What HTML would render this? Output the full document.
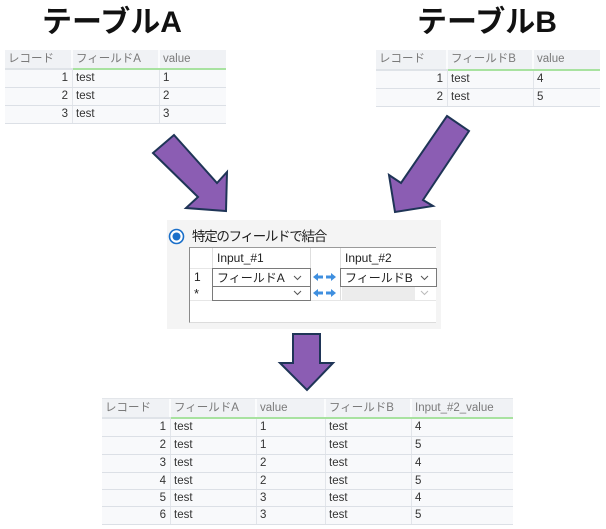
<!DOCTYPE html>
<html><head><meta charset="utf-8">
<style>
html,body{margin:0;padding:0;background:#fff;}
body{width:606px;height:529px;position:relative;overflow:hidden;font-family:"Liberation Sans","Noto Sans CJK JP",sans-serif;}
.t{position:absolute;font-weight:bold;font-size:30px;line-height:30px;color:#111;white-space:nowrap;font-family:"Liberation Sans","Noto Sans CJK JP",sans-serif;}
.row{position:absolute;display:flex;box-sizing:border-box;}
.row span{box-sizing:border-box;display:block;white-space:nowrap;overflow:hidden;padding-left:3px;font-size:11.5px;font-family:"Liberation Sans","Noto Sans CJK JP",sans-serif;border-right:1px solid #e2e5ea;}
.hd{background:#f0f2f5;color:#7a7a7a;}
.hd span{border-right:2px solid #fbfcfd;}
.bd{background:#f8f9fb;color:#333;border-bottom:1px solid #dce0e6;}
.bd span.n{text-align:right;padding-right:4px;padding-left:0;}
.ln{position:absolute;}
.g{position:absolute;font-size:12px;color:#222;white-space:nowrap;font-family:"Liberation Sans","Noto Sans CJK JP",sans-serif;}
</style></head><body>

<div class="t" style="left:42px;top:8px;">テーブルA</div>
<div class="t" style="left:417px;top:8px;">テーブルB</div>

<!-- Table A -->
<div class="row hd" style="left:5px;top:50px;height:18px;line-height:18px;">
<span style="width:68px">レコード</span><span style="width:87px">フィールドA</span><span style="width:66px;border-right:none">value</span></div>
<div class="ln" style="left:5px;top:68px;width:68px;height:2px;background:#dfe3e8"></div>
<div class="ln" style="left:73px;top:68px;width:153px;height:2px;background:#a8e2a0"></div>
<div class="row bd" style="left:5px;top:70px;height:18px;line-height:17px;">
<span class="n" style="width:68px">1</span><span style="width:87px">test</span><span style="width:66px;border-right:none">1</span></div>
<div class="row bd" style="left:5px;top:88px;height:18px;line-height:17px;">
<span class="n" style="width:68px">2</span><span style="width:87px">test</span><span style="width:66px;border-right:none">2</span></div>
<div class="row bd" style="left:5px;top:106px;height:18px;line-height:17px;">
<span class="n" style="width:68px">3</span><span style="width:87px">test</span><span style="width:66px;border-right:none">3</span></div>

<!-- Table B -->
<div class="row hd" style="left:376px;top:50px;height:19px;line-height:19px;">
<span style="width:72px">レコード</span><span style="width:86px">フィールドB</span><span style="width:66px;border-right:none">value</span></div>
<div class="ln" style="left:376px;top:69px;width:72px;height:2px;background:#dfe3e8"></div>
<div class="ln" style="left:448px;top:69px;width:152px;height:2px;background:#a8e2a0"></div>
<div class="row bd" style="left:376px;top:71px;height:18px;line-height:17px;">
<span class="n" style="width:72px">1</span><span style="width:86px">test</span><span style="width:66px;border-right:none">4</span></div>
<div class="row bd" style="left:376px;top:89px;height:18px;line-height:17px;">
<span class="n" style="width:72px">2</span><span style="width:86px">test</span><span style="width:66px;border-right:none">5</span></div>

<!-- Join panel -->
<div class="ln" style="left:167px;top:220px;width:274px;height:109px;background:#f4f4f4"></div>
<div class="g" style="left:192px;top:227px;font-size:13.5px;letter-spacing:-1.3px;line-height:20px;color:#222;">特定のフィールドで結合</div>
<div class="ln" style="left:189px;top:247px;width:247px;height:76px;background:#fff;border-left:1px solid #8a8a8a;border-top:1px solid #9a9a9a;border-bottom:1px solid #dcdcdc;box-sizing:border-box"></div>
<!-- grid light lines -->
<div class="ln" style="left:212px;top:248px;width:1px;height:52px;background:#dedede"></div>
<div class="ln" style="left:310px;top:248px;width:1px;height:52px;background:#dedede"></div>
<div class="ln" style="left:340px;top:248px;width:1px;height:52px;background:#dedede"></div>
<div class="ln" style="left:190px;top:300px;width:246px;height:1px;background:#e6e6e6"></div>
<div class="ln" style="left:190px;top:268px;width:22px;height:1px;background:#e6e6e6"></div>
<div class="g" style="left:217px;top:249px;line-height:18px;">Input_#1</div>
<div class="g" style="left:345px;top:249px;line-height:18px;">Input_#2</div>
<div class="g" style="left:194px;top:269px;line-height:17px;">1</div>
<div class="g" style="left:194px;top:286px;line-height:16px;font-size:13px;">*</div>
<!-- dropdowns -->
<div class="ln" style="left:212px;top:268px;width:99px;height:19px;border:1px solid #7a7a7a;box-sizing:border-box;background:#fff"></div>
<div class="ln" style="left:212px;top:286px;width:99px;height:15px;border:1px solid #7a7a7a;box-sizing:border-box;background:#fff"></div>
<div class="ln" style="left:340px;top:268px;width:97px;height:19px;border:1px solid #7a7a7a;box-sizing:border-box;background:#fff"></div>
<div class="ln" style="left:342px;top:287px;width:73px;height:13px;background:#ececec"></div>
<div class="g" style="left:217px;top:270px;line-height:16px;font-size:12px;">フィールドA</div>
<div class="g" style="left:345px;top:270px;line-height:16px;font-size:12px;">フィールドB</div>

<svg width="606" height="529" style="position:absolute;left:0;top:0" xmlns="http://www.w3.org/2000/svg">
<!-- radio -->
<circle cx="176.5" cy="236.5" r="7" fill="#fff" stroke="#1a6fc9" stroke-width="1.6"/>
<circle cx="176.5" cy="236.5" r="4" fill="#1a6fc9"/>
<!-- chevrons -->
<polyline points="294,276 297.5,279.5 301,276" fill="none" stroke="#555" stroke-width="1"/>
<polyline points="294,291 297.5,294.5 301,291" fill="none" stroke="#555" stroke-width="1"/>
<polyline points="421,276 424.5,279.5 428,276" fill="none" stroke="#555" stroke-width="1"/>
<polyline points="421,291 424.5,294.5 428,291" fill="none" stroke="#bbb" stroke-width="1"/>
<!-- blue arrows -->
<g fill="#3f8fdf">
<polygon points="313,277 318,273 318,275.5 323,275.5 323,278.5 318,278.5 318,281"/>
<polygon points="336,277 331,273 331,275.5 326,275.5 326,278.5 331,278.5 331,281"/>
<polygon points="313,293 318,289 318,291.5 323,291.5 323,294.5 318,294.5 318,297"/>
<polygon points="336,293 331,289 331,291.5 326,291.5 326,294.5 331,294.5 331,297"/>
</g>
<!-- big arrows -->
<g fill="#8b5db3" stroke="#1f3557" stroke-width="2" stroke-linejoin="miter">
<polygon points="153,153 174,135 217,183 227,172 226,211 186,208 198,197"/>
<polygon points="447,116 469,131 423,200 433,206 395,212 389,175 401,183"/>
<polygon points="293,334 320,334 320,363 333,363 307,390 280,363 293,363"/>
</g>
</svg>

<!-- Result table -->
<div class="ln" style="left:102px;top:398px;width:411px;height:1px;background:#e3e6ea"></div>
<div class="row hd" style="left:102px;top:399px;height:18px;line-height:18px;">
<span style="width:69px">レコード</span><span style="width:86px">フィールドA</span><span style="width:69px">value</span><span style="width:86px">フィールドB</span><span style="width:101px;border-right:none">Input_#2_value</span></div>
<div class="ln" style="left:102px;top:417px;width:69px;height:2px;background:#dfe3e8"></div>
<div class="ln" style="left:171px;top:417px;width:342px;height:2px;background:#a8e2a0"></div>
<div class="row bd" style="left:102px;top:419px;height:18px;line-height:17px;">
<span class="n" style="width:69px">1</span><span style="width:86px">test</span><span style="width:69px">1</span><span style="width:86px">test</span><span style="width:101px;border-right:none">4</span></div>
<div class="row bd" style="left:102px;top:437px;height:18px;line-height:17px;">
<span class="n" style="width:69px">2</span><span style="width:86px">test</span><span style="width:69px">1</span><span style="width:86px">test</span><span style="width:101px;border-right:none">5</span></div>
<div class="row bd" style="left:102px;top:455px;height:18px;line-height:17px;">
<span class="n" style="width:69px">3</span><span style="width:86px">test</span><span style="width:69px">2</span><span style="width:86px">test</span><span style="width:101px;border-right:none">4</span></div>
<div class="row bd" style="left:102px;top:473px;height:17px;line-height:16px;">
<span class="n" style="width:69px">4</span><span style="width:86px">test</span><span style="width:69px">2</span><span style="width:86px">test</span><span style="width:101px;border-right:none">5</span></div>
<div class="row bd" style="left:102px;top:490px;height:17px;line-height:16px;">
<span class="n" style="width:69px">5</span><span style="width:86px">test</span><span style="width:69px">3</span><span style="width:86px">test</span><span style="width:101px;border-right:none">4</span></div>
<div class="row bd" style="left:102px;top:507px;height:18px;line-height:17px;">
<span class="n" style="width:69px">6</span><span style="width:86px">test</span><span style="width:69px">3</span><span style="width:86px">test</span><span style="width:101px;border-right:none">5</span></div>

</body></html>
